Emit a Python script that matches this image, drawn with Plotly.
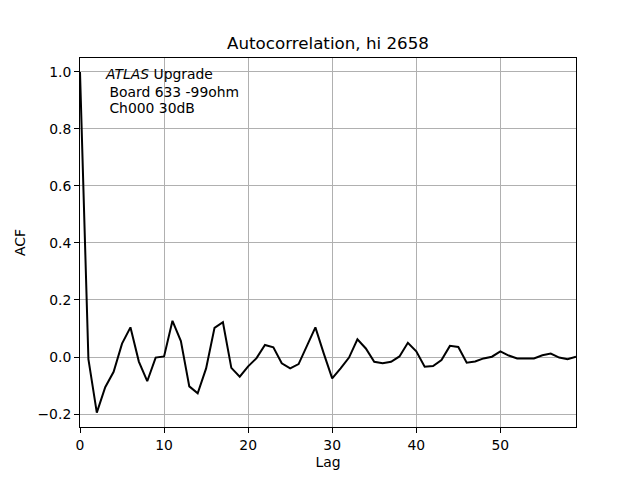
import plotly.graph_objects as go

lags = list(range(60))
acf = [1.0, -0.008, -0.195, -0.106, -0.052, 0.047, 0.104, -0.016, -0.085, -0.002,
       0.002, 0.127, 0.056, -0.103, -0.127, -0.04, 0.102, 0.122, -0.038, -0.069,
       -0.033, -0.004, 0.042, 0.034, -0.022, -0.04, -0.025, 0.039, 0.104, 0.012,
       -0.075, -0.04, -0.002, 0.062, 0.03, -0.017, -0.022, -0.017, 0.002, 0.05,
       0.02, -0.034, -0.032, -0.011, 0.039, 0.035, -0.02, -0.016, -0.005, 0.001,
       0.02, 0.005, -0.005, -0.005, -0.005, 0.006, 0.012, -0.002, -0.008, 0.001]

title = "Autocorrelation, hi 2658"
label_lines = ["<i>ATLAS</i> Upgrade", "\u00a0Board 633 -99ohm", "\u00a0Ch000 30dB"]

FS = 13.9

fig = go.Figure()
fig.add_trace(go.Scatter(x=lags, y=acf, mode="lines",
                         line=dict(color="black", width=2), showlegend=False))

axis_common = dict(showline=True, linecolor="black", linewidth=1, mirror=True,
                   ticks="outside", ticklen=5, tickcolor="black", tickwidth=1,
                   showgrid=True, gridcolor="#b0b0b0", gridwidth=1, zeroline=False,
                   tickfont=dict(family="DejaVu Sans", size=FS, color="black"))

line_centers = [74, 91.5, 108]
annotations = [dict(text=t, xref="paper", yref="paper",
                    x=23/496, y=(427 - yc)/369, xanchor="left", yanchor="middle",
                    align="left", showarrow=False,
                    font=dict(family="DejaVu Sans", size=FS, color="black"))
               for t, yc in zip(label_lines, line_centers)]

# page body has an 8px offset; margins compensate so the plot lands at 80..576 x 58..427
fig.update_layout(
    width=640, height=480,
    paper_bgcolor="white", plot_bgcolor="white",
    margin=dict(l=72, r=72, t=50, b=61),
    title=dict(text=title, x=(72 + 248) / 640, xanchor="center", y=1 - 35/480, yanchor="middle",
               font=dict(family="DejaVu Sans", size=16.7, color="black")),
    xaxis=dict(range=[0, 59], tickvals=[0, 10, 20, 30, 40, 50],
               title=dict(text="Lag", font=dict(family="DejaVu Sans", size=FS, color="black"), standoff=5),
               **axis_common),
    yaxis=dict(range=[-0.2456, 1.049], tickvals=[-0.2, 0, 0.2, 0.4, 0.6, 0.8, 1.0],
               tickformat=".1f",
               title=dict(text="ACF", font=dict(family="DejaVu Sans", size=FS, color="black"), standoff=8),
               **axis_common),
    annotations=annotations,
)

fig.write_html("out.html")
